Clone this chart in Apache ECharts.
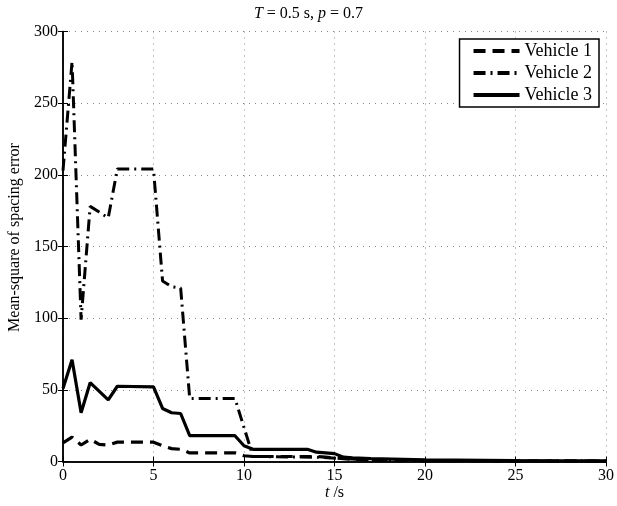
<!DOCTYPE html>
<html>
<head>
<meta charset="utf-8">
<script src="https://cdn.jsdelivr.net/npm/echarts@6/dist/echarts.min.js"></script>
<style>html,body{margin:0;padding:0;background:#fff;}#c{width:617px;height:506px;}</style>
</head>
<body>
<div id="c"></div>
<script>
// Data
var v1Time = [0, 0.5, 1, 1.5, 2, 2.5, 3, 5, 5.5, 6, 6.5, 7, 9.5, 10, 10.5, 14, 14.5, 15.5, 16, 17, 20, 25, 30];
var v1Value = [13, 17, 11.5, 15.5, 12, 11.5, 13.5, 13.5, 11, 9, 8.5, 6, 6, 4, 3.5, 3.5, 3, 2, 1.5, 1, 0.7, 0.4, 0.3];

var v2Time = [0, 0.5, 1, 1.5, 2, 2.5, 3, 5, 5.5, 6, 6.5, 7, 9.5, 10.5, 14, 15.5, 17, 20, 25, 30];
var v2Value = [203, 279, 99, 178, 174, 170, 204, 204, 126, 122, 121, 44, 44, 3.5, 3, 2, 1, 0.5, 0.4, 0.3];

var v3Time = [0, 0.5, 1, 1.5, 2.5, 3, 5, 5.5, 6, 6.5, 7, 9.5, 10, 10.5, 13.5, 14, 15, 15.5, 16, 17, 20, 25, 30];
var v3Value = [51, 71, 34, 55, 43, 52.5, 52, 37, 34, 33.5, 18, 18, 11, 8.5, 8.5, 6.5, 5.5, 3, 2.5, 2, 1.2, 0.6, 0.4];

var seriesNames = ['Vehicle 1', 'Vehicle 2', 'Vehicle 3'];
var xTicks = {min: 0, max: 30, interval: 5};
var yTicks = {min: 0, max: 300, interval: 50};

function pairs(t, v) { return t.map(function (x, i) { return [x, v[i]]; }); }

var font = 'Liberation Serif, Times New Roman, serif';
var chart = echarts.init(document.getElementById('c'), null, {renderer: 'canvas'});

var baseAxis = {
  axisLine: {show: true, lineStyle: {color: '#000', width: 1.5}},
  axisTick: {show: true, inside: true, length: 5, lineStyle: {color: '#000', width: 1}},
  splitLine: {show: false}
};

chart.setOption({
  animation: false,
  backgroundColor: '#fff',
  color: ['#000', '#000', '#000'],
  title: {
    text: '{i|T} = 0.5 s, {i|p} = 0.7',
    left: 'center',
    top: 1,
    textStyle: {
      fontFamily: font, fontSize: 16, fontWeight: 'normal', color: '#000',
      rich: {i: {fontFamily: font, fontSize: 16, fontStyle: 'italic', color: '#000'}}
    }
  },
  grid: {left: 63, right: 11, top: 31.5, bottom: 44.5, containLabel: false, outerBoundsMode: 'none'},
  legend: {
    data: seriesNames,
    orient: 'vertical',
    right: 18,
    top: 39,
    itemWidth: 46,
    itemHeight: 14,
    itemGap: 4,
    padding: [3, 7, 3, 12],
    backgroundColor: '#fff',
    borderColor: '#000',
    borderWidth: 1.5,
    borderRadius: 0,
    itemStyle: {opacity: 0, borderWidth: 0},
    lineStyle: {width: 4},
    textStyle: {fontFamily: font, fontSize: 18, color: '#000', padding: [0, 0, 0, 0]}
  },
  xAxis: [
    Object.assign({}, baseAxis, {
      type: 'value', min: xTicks.min, max: xTicks.max, interval: xTicks.interval,
      position: 'bottom',
      name: '{i|t} /s', nameLocation: 'middle', nameGap: 23, nameMoveOverlap: false,
      nameTextStyle: {fontFamily: font, fontSize: 16, color: '#000',
        rich: {i: {fontFamily: font, fontSize: 16, fontStyle: 'italic', color: '#000'}}},
      axisLabel: {fontFamily: font, fontSize: 16, color: '#000', margin: 6},
      splitLine: {show: true, lineStyle: {color: '#888', width: 1, type: [1, 5]}}
    }),
    Object.assign({}, baseAxis, {
      type: 'value', min: xTicks.min, max: xTicks.max, interval: xTicks.interval,
      position: 'top', axisLabel: {show: false}
    })
  ],
  yAxis: [
    Object.assign({}, baseAxis, {
      type: 'value', min: yTicks.min, max: yTicks.max, interval: yTicks.interval,
      position: 'left',
      name: 'Mean-square of spacing error', nameLocation: 'middle', nameGap: 40, nameMoveOverlap: false,
      nameTextStyle: {fontFamily: font, fontSize: 16, color: '#000', padding: [0, 0, 0, 18]},
      axisLabel: {fontFamily: font, fontSize: 16, color: '#000', margin: 5},
      splitLine: {show: true, lineStyle: {color: '#888', width: 1, type: [1, 5]}}
    }),
    Object.assign({}, baseAxis, {
      type: 'value', min: yTicks.min, max: yTicks.max, interval: yTicks.interval,
      position: 'right', axisLabel: {show: false}
    })
  ],
  series: [
    {
      name: seriesNames[0], type: 'line', data: pairs(v1Time, v1Value),
      showSymbol: false, symbol: 'none',
      itemStyle: {color: '#000'},
      lineStyle: {color: '#000', width: 3.2, type: [12, 7]}
    },
    {
      name: seriesNames[1], type: 'line', data: pairs(v2Time, v2Value),
      showSymbol: false, symbol: 'none',
      itemStyle: {color: '#000'},
      lineStyle: {color: '#000', width: 3, type: [12, 5, 2, 5]}
    },
    {
      name: seriesNames[2], type: 'line', data: pairs(v3Time, v3Value),
      showSymbol: false, symbol: 'none',
      itemStyle: {color: '#000'},
      lineStyle: {color: '#000', width: 3.2, type: 'solid'}
    }
  ]
});
</script>
</body>
</html>
